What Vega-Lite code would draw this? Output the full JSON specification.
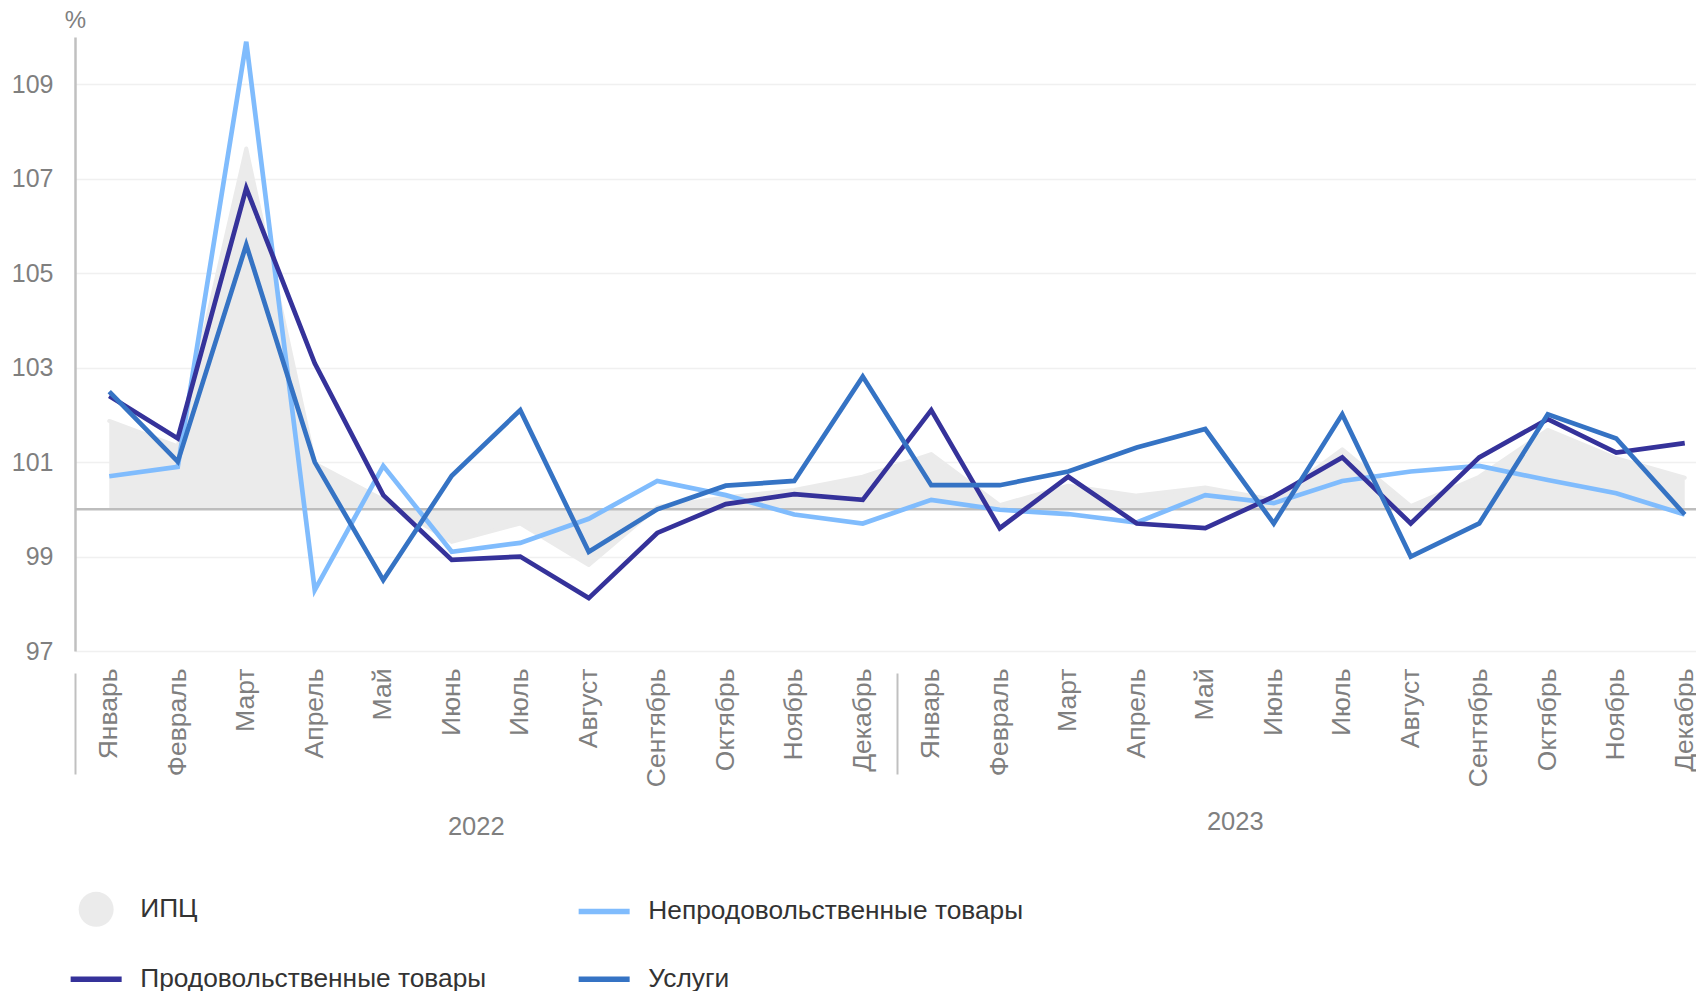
{
  "$schema": "https://vega.github.io/schema/vega-lite/v6.json",
  "autosize": {"type": "none"},
  "padding": {"left": 75, "top": 37, "right": 0, "bottom": 340},
  "width": 1621,
  "height": 614,
  "background": "white",
  "config": {
    "view": {"stroke": null},
    "font": "Liberation Sans",
    "axis": {"labelFont": "Liberation Sans", "labelColor": "#7f7f7f", "labelFontSize": 25, "titleFont": "Liberation Sans"},
    "legend": {"labelFont": "Liberation Sans"}
  },
  "data": {
    "values": [
      {"d": "2022-01", "s": "ИПЦ", "v": 101.87}, {"d": "2022-02", "s": "ИПЦ", "v": 101.33}, {"d": "2022-03", "s": "ИПЦ", "v": 107.64}, {"d": "2022-04", "s": "ИПЦ", "v": 100.97},
      {"d": "2022-05", "s": "ИПЦ", "v": 100.2}, {"d": "2022-06", "s": "ИПЦ", "v": 99.31}, {"d": "2022-07", "s": "ИПЦ", "v": 99.7}, {"d": "2022-08", "s": "ИПЦ", "v": 98.82},
      {"d": "2022-09", "s": "ИПЦ", "v": 100.05}, {"d": "2022-10", "s": "ИПЦ", "v": 100.25}, {"d": "2022-11", "s": "ИПЦ", "v": 100.41}, {"d": "2022-12", "s": "ИПЦ", "v": 100.69},
      {"d": "2023-01", "s": "ИПЦ", "v": 101.17}, {"d": "2023-02", "s": "ИПЦ", "v": 100.09}, {"d": "2023-03", "s": "ИПЦ", "v": 100.5}, {"d": "2023-04", "s": "ИПЦ", "v": 100.29},
      {"d": "2023-05", "s": "ИПЦ", "v": 100.46}, {"d": "2023-06", "s": "ИПЦ", "v": 100.2}, {"d": "2023-07", "s": "ИПЦ", "v": 101.27}, {"d": "2023-08", "s": "ИПЦ", "v": 100.07},
      {"d": "2023-09", "s": "ИПЦ", "v": 100.69}, {"d": "2023-10", "s": "ИПЦ", "v": 101.68}, {"d": "2023-11", "s": "ИПЦ", "v": 101.08}, {"d": "2023-12", "s": "ИПЦ", "v": 100.67},

      {"d": "2022-01", "s": "Непродовольственные товары", "v": 100.7}, {"d": "2022-02", "s": "Непродовольственные товары", "v": 100.9}, {"d": "2022-03", "s": "Непродовольственные товары", "v": 109.9}, {"d": "2022-04", "s": "Непродовольственные товары", "v": 98.29},
      {"d": "2022-05", "s": "Непродовольственные товары", "v": 100.92}, {"d": "2022-06", "s": "Непродовольственные товары", "v": 99.1}, {"d": "2022-07", "s": "Непродовольственные товары", "v": 99.29}, {"d": "2022-08", "s": "Непродовольственные товары", "v": 99.8},
      {"d": "2022-09", "s": "Непродовольственные товары", "v": 100.6}, {"d": "2022-10", "s": "Непродовольственные товары", "v": 100.3}, {"d": "2022-11", "s": "Непродовольственные товары", "v": 99.89}, {"d": "2022-12", "s": "Непродовольственные товары", "v": 99.7},
      {"d": "2023-01", "s": "Непродовольственные товары", "v": 100.2}, {"d": "2023-02", "s": "Непродовольственные товары", "v": 99.99}, {"d": "2023-03", "s": "Непродовольственные товары", "v": 99.9}, {"d": "2023-04", "s": "Непродовольственные товары", "v": 99.72},
      {"d": "2023-05", "s": "Непродовольственные товары", "v": 100.3}, {"d": "2023-06", "s": "Непродовольственные товары", "v": 100.13}, {"d": "2023-07", "s": "Непродовольственные товары", "v": 100.6}, {"d": "2023-08", "s": "Непродовольственные товары", "v": 100.8},
      {"d": "2023-09", "s": "Непродовольственные товары", "v": 100.92}, {"d": "2023-10", "s": "Непродовольственные товары", "v": 100.62}, {"d": "2023-11", "s": "Непродовольственные товары", "v": 100.34}, {"d": "2023-12", "s": "Непродовольственные товары", "v": 99.89},

      {"d": "2022-01", "s": "Продовольственные товары", "v": 102.4}, {"d": "2022-02", "s": "Продовольственные товары", "v": 101.5}, {"d": "2022-03", "s": "Продовольственные товары", "v": 106.8}, {"d": "2022-04", "s": "Продовольственные товары", "v": 103.09},
      {"d": "2022-05", "s": "Продовольственные товары", "v": 100.3}, {"d": "2022-06", "s": "Продовольственные товары", "v": 98.93}, {"d": "2022-07", "s": "Продовольственные товары", "v": 99.0}, {"d": "2022-08", "s": "Продовольственные товары", "v": 98.12},
      {"d": "2022-09", "s": "Продовольственные товары", "v": 99.5}, {"d": "2022-10", "s": "Продовольственные товары", "v": 100.11}, {"d": "2022-11", "s": "Продовольственные товары", "v": 100.32}, {"d": "2022-12", "s": "Продовольственные товары", "v": 100.2},
      {"d": "2023-01", "s": "Продовольственные товары", "v": 102.1}, {"d": "2023-02", "s": "Продовольственные товары", "v": 99.6}, {"d": "2023-03", "s": "Продовольственные товары", "v": 100.69}, {"d": "2023-04", "s": "Продовольственные товары", "v": 99.7},
      {"d": "2023-05", "s": "Продовольственные товары", "v": 99.6}, {"d": "2023-06", "s": "Продовольственные товары", "v": 100.27}, {"d": "2023-07", "s": "Продовольственные товары", "v": 101.1}, {"d": "2023-08", "s": "Продовольственные товары", "v": 99.7},
      {"d": "2023-09", "s": "Продовольственные товары", "v": 101.1}, {"d": "2023-10", "s": "Продовольственные товары", "v": 101.91}, {"d": "2023-11", "s": "Продовольственные товары", "v": 101.2}, {"d": "2023-12", "s": "Продовольственные товары", "v": 101.4},

      {"d": "2022-01", "s": "Услуги", "v": 102.49}, {"d": "2022-02", "s": "Услуги", "v": 101.01}, {"d": "2022-03", "s": "Услуги", "v": 105.6}, {"d": "2022-04", "s": "Услуги", "v": 101.0},
      {"d": "2022-05", "s": "Услуги", "v": 98.5}, {"d": "2022-06", "s": "Услуги", "v": 100.71}, {"d": "2022-07", "s": "Услуги", "v": 102.1}, {"d": "2022-08", "s": "Услуги", "v": 99.1},
      {"d": "2022-09", "s": "Услуги", "v": 100.0}, {"d": "2022-10", "s": "Услуги", "v": 100.5}, {"d": "2022-11", "s": "Услуги", "v": 100.6}, {"d": "2022-12", "s": "Услуги", "v": 102.81},
      {"d": "2023-01", "s": "Услуги", "v": 100.51}, {"d": "2023-02", "s": "Услуги", "v": 100.51}, {"d": "2023-03", "s": "Услуги", "v": 100.8}, {"d": "2023-04", "s": "Услуги", "v": 101.31},
      {"d": "2023-05", "s": "Услуги", "v": 101.7}, {"d": "2023-06", "s": "Услуги", "v": 99.7}, {"d": "2023-07", "s": "Услуги", "v": 102.01}, {"d": "2023-08", "s": "Услуги", "v": 99.0},
      {"d": "2023-09", "s": "Услуги", "v": 99.7}, {"d": "2023-10", "s": "Услуги", "v": 102.01}, {"d": "2023-11", "s": "Услуги", "v": 101.5}, {"d": "2023-12", "s": "Услуги", "v": 99.89}
    ]
  },
  "resolve": {"axis": {"x": "independent"}},
  "layer": [
    {
      "transform": [{"filter": "datum.s === 'ИПЦ'"}],
      "mark": {"type": "area", "opacity": 1},
      "encoding": {
        "x": {
          "field": "d", "type": "ordinal",
          "scale": {"type": "band", "range": [0, 1644], "paddingInner": 0, "paddingOuter": 0},
          "axis": {
            "orient": "bottom", "title": null, "ticks": false, "domain": false, "grid": false,
            "labelAngle": 270, "labelPadding": 17, "labelFontSize": 26.5,
            "labelExpr": "['Январь','Февраль','Март','Апрель','Май','Июнь','Июль','Август','Сентябрь','Октябрь','Ноябрь','Декабрь'][toNumber(substring(datum.value, 5, 7)) - 1]"
          }
        },
        "y": {
          "field": "v", "type": "quantitative",
          "scale": {"domain": [97, 110], "nice": false, "zero": false},
          "axis": {
            "values": [97, 99, 101, 103, 105, 107, 109],
            "title": "%", "titleAngle": 0, "titleX": 0, "titleY": -16.5, "titleAlign": "center", "titleBaseline": "middle",
            "titleFontSize": 24, "titleFontWeight": "normal", "titleColor": "#7f7f7f", "titlePadding": 0,
            "ticks": false, "domainColor": "#c0c0c0", "domainWidth": 2.5,
            "gridColor": "#f0f0f0", "gridWidth": 1.5, "labelPadding": 22, "labelFontSize": 25
          }
        },
        "y2": {"datum": 100},
        "color": {
          "field": "s", "type": "nominal",
          "scale": {
            "domain": ["ИПЦ", "Непродовольственные товары", "Продовольственные товары", "Услуги"],
            "range": ["#ebebeb", "#80bcfd", "#35329a", "#3573c4"]
          },
          "legend": {
            "title": null, "orient": "bottom", "direction": "horizontal", "columns": 2,
            "offset": 56, "rowPadding": 39, "columnPadding": 80,
            "symbolType": "stroke", "symbolSize": 2601, "symbolStrokeWidth": 5.5, "symbolOffset": 8,
            "labelFontSize": 26.3, "labelColor": "#333333", "labelOffset": 31, "labelLimit": 0,
            "encode": {
              "symbols": {
                "update": {
                  "shape": {"signal": "datum.value === 'ИПЦ' ? 'circle' : 'stroke'"},
                  "size": {"signal": "datum.value === 'ИПЦ' ? 1225 : 2601"},
                  "strokeWidth": {"signal": "datum.value === 'ИПЦ' ? 0 : 5.5"},
                  "fill": {"signal": "datum.value === 'ИПЦ' ? '#ebebeb' : 'transparent'"},
                  "stroke": {"signal": "datum.value === 'ИПЦ' ? 'transparent' : scale('color', datum.value)"}
                }
              }
            }
          }
        }
      }
    },
    {
      "transform": [{"filter": "datum.s === 'ИПЦ'"}],
      "mark": {"type": "line", "color": "#ebebeb", "strokeWidth": 4, "strokeJoin": "round", "strokeCap": "round"},
      "encoding": {
        "x": {
          "field": "d", "type": "ordinal",
          "axis": {
            "orient": "bottom", "title": null, "values": ["2022-01", "2023-01"], "bandPosition": 0,
            "labels": false, "domain": false, "grid": false, "ticks": true,
            "tickSize": 101, "tickColor": "#c0c0c0", "tickWidth": 2, "offset": 22
          }
        },
        "y": {"field": "v", "type": "quantitative"}
      }
    },
    {
      "data": {"values": [{}]},
      "mark": {"type": "rule", "color": "#bdbdbd", "strokeWidth": 2.5},
      "encoding": {"y": {"datum": 100}}
    },
    {
      "transform": [{"filter": "datum.s !== 'ИПЦ'"}],
      "mark": {"type": "line", "strokeWidth": 4.7},
      "encoding": {
        "x": {
          "field": "d", "type": "ordinal",
          "axis": {
            "orient": "bottom", "title": null, "values": ["2022-06", "2023-05"],
            "labelExpr": "substring(datum.value, 0, 4)", "labelAngle": 0, "labelAlign": "center", "labelBaseline": "top",
            "labelOffset": {"condition": {"test": "datum.value === '2022-06'", "value": 24.5}, "value": 30},
            "labelPadding": {"condition": {"test": "datum.value === '2022-06'", "value": 163}, "value": 158},
            "ticks": false, "domain": false, "grid": false, "labelFontSize": 25.5
          }
        },
        "y": {"field": "v", "type": "quantitative"},
        "color": {
          "field": "s", "type": "nominal",
          "legend": {
            "title": null, "orient": "bottom", "direction": "horizontal", "columns": 2,
            "offset": 56, "rowPadding": 39, "columnPadding": 80,
            "symbolType": "stroke", "symbolSize": 2601, "symbolStrokeWidth": 5.5, "symbolOffset": 8,
            "labelFontSize": 26.3, "labelColor": "#333333", "labelOffset": 31, "labelLimit": 0,
            "encode": {
              "symbols": {
                "update": {
                  "shape": {"signal": "datum.value === 'ИПЦ' ? 'circle' : 'stroke'"},
                  "size": {"signal": "datum.value === 'ИПЦ' ? 1225 : 2601"},
                  "strokeWidth": {"signal": "datum.value === 'ИПЦ' ? 0 : 5.5"},
                  "fill": {"signal": "datum.value === 'ИПЦ' ? '#ebebeb' : 'transparent'"},
                  "stroke": {"signal": "datum.value === 'ИПЦ' ? 'transparent' : scale('color', datum.value)"}
                }
              }
            }
          }
        }
      }
    }
  ]
}
